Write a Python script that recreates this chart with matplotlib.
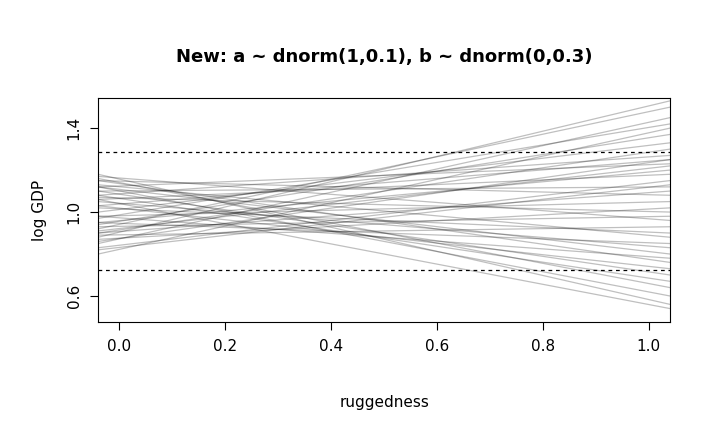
import matplotlib
matplotlib.use("Agg")
import matplotlib.pyplot as plt
import numpy as np

# line values at x=-0.04 (left) and x=1.04 (right)
x_ends = [-0.04, 1.04]
left_vals = [0.88,0.92,0.85,0.97,0.80,0.94,1.00,0.90,1.08,1.03,0.86,1.12,0.95,1.06,0.83,1.10,0.90,1.15,0.98,0.87,
             1.07,0.93,1.17,0.89,1.02,1.13,0.95,1.05,1.12,0.98,1.15,1.03,1.10,1.08,1.16,1.12,1.18,1.06,0.82,0.91]
right_vals = [1.53,1.50,1.45,1.42,1.40,1.37,1.33,1.30,1.27,1.25,1.25,1.23,1.20,1.18,1.15,1.12,1.10,1.08,1.05,1.02,
              1.00,0.98,0.96,0.93,0.90,0.88,0.85,0.83,0.80,0.78,0.76,0.73,0.70,0.67,0.64,0.60,0.56,0.54,1.13,1.22]
ref_lines = [1.286, 0.724]
xticks = [0.0, 0.2, 0.4, 0.6, 0.8, 1.0]
yticks = [0.6, 1.0, 1.4]

fig = plt.figure(figsize=(7.22, 4.46), dpi=100)
ax = fig.add_axes([0.136, 0.278, 0.792, 0.502])
for l, r in zip(left_vals, right_vals):
    ax.plot(x_ends, [l, r], color="black", alpha=0.25, lw=0.9)
for y in ref_lines:
    ax.axhline(y, color="black", ls=(0, (3, 3)), lw=0.9)
ax.set_xlim(-0.04, 1.04)
ax.set_ylim(0.476, 1.543)
ax.set_xticks(xticks)
ax.set_xticklabels([f"{v:.1f}" for v in xticks], fontsize=11)
ax.set_yticks(yticks)
ax.set_yticklabels([f"{v:.1f}" for v in yticks], fontsize=11, rotation=90, va="center")
ax.tick_params(length=6, pad=6)
ax.set_xlabel("ruggedness", fontsize=11, labelpad=30)
ax.set_ylabel("log GDP", fontsize=11, labelpad=14)
ax.set_title("New: a ~ dnorm(1,0.1), b ~ dnorm(0,0.3)", fontsize=13, fontweight="bold", pad=26)
fig.savefig("out.png", dpi=100)
